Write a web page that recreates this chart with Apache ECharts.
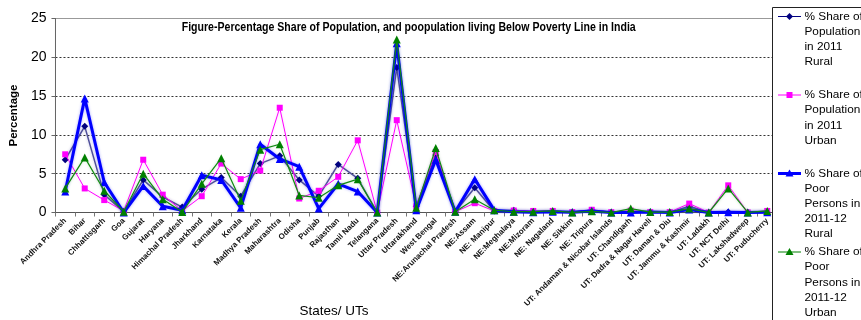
<!DOCTYPE html>
<html>
<head>
<meta charset="utf-8">
<script src="https://cdn.jsdelivr.net/npm/echarts@6/dist/echarts.min.js"></script>
<style>
  html, body { margin: 0; padding: 0; background: #ffffff; }
  #chart { width: 861px; height: 320px; }
</style>
</head>
<body>
<div id="chart"></div>
<script>
// States and Union Territories along the category axis
const states = [
  'Andhra Pradesh', 'Bihar', 'Chhattisgarh', 'Goa', 'Gujarat', 'Haryana',
  'Himachal Pradesh', 'Jharkhand', 'Karnataka', 'Kerala', 'Madhya Pradesh',
  'Maharashtra', 'Odisha', 'Punjab', 'Rajasthan', 'Tamil Nadu', 'Telangana',
  'Uttar Pradesh', 'Uttarakhand', 'West Bengal', 'NE:Arunachal Pradesh',
  'NE:Assam', 'NE: Manipur', 'NE:Meghalaya', 'NE:Mizoram', 'NE: Nagaland',
  'NE: Sikkim', 'NE: Tripura', 'UT: Andaman & Nicobar Islands', 'UT: Chandigarh',
  'UT: Dadra & Nagar Haveli', 'UT: Daman & Diu', 'UT: Jammu & Kashmir',
  'UT: Ladakh', 'UT: NCT Delhi', 'UT: Lakshadweep', 'UT: Puducherry'
];

// % share of population in 2011, rural
const ruralPop2011 = [
  6.8, 11.1, 2.3, 0.1, 4.2, 2.0, 0.7, 3.0, 4.5, 2.1, 6.3,
  7.3, 4.2, 2.1, 6.2, 4.4, 0.0, 18.7, 0.8, 7.4, 0.1,
  3.2, 0.2, 0.3, 0.06, 0.15, 0.05, 0.3, 0.03, 0.0,
  0.02, 0.01, 0.8, 0.0, 0.05, 0.0, 0.04
];

// % share of population in 2011, urban
const urbanPop2011 = [
  7.5, 3.1, 1.6, 0.2, 6.8, 2.3, 0.2, 2.1, 6.3, 4.3, 5.4,
  13.5, 1.8, 2.8, 4.6, 9.3, 0.0, 11.9, 0.8, 7.8, 0.1,
  1.2, 0.2, 0.25, 0.2, 0.2, 0.05, 0.35, 0.04, 0.25,
  0.05, 0.05, 1.15, 0.0, 3.5, 0.01, 0.2
];

// % share of poor persons in 2011-12, rural
const poorRural2011_12 = [
  2.7, 14.7, 3.9, 0.0, 3.4, 0.8, 0.3, 4.8, 4.2, 0.6, 8.8,
  6.9, 5.9, 0.5, 3.7, 2.7, 0.0, 21.8, 0.3, 6.8, 0.1,
  4.3, 0.3, 0.1, 0.02, 0.1, 0.02, 0.2, 0.0, 0.0,
  0.05, 0.0, 0.4, 0.0, 0.02, 0.0, 0.02
];

// % share of poor persons in 2011-12, urban
const poorUrban2011_12 = [
  3.1, 7.1, 2.8, 0.1, 5.0, 1.7, 0.05, 3.7, 7.0, 1.5, 8.1,
  8.8, 2.2, 1.9, 3.5, 4.3, 0.0, 22.3, 0.6, 8.3, 0.1,
  1.7, 0.3, 0.1, 0.1, 0.2, 0.01, 0.15, 0.0, 0.5,
  0.05, 0.05, 0.5, 0.0, 3.1, 0.01, 0.2
];

// Value axis ticks
const yTicks = [0, 5, 10, 15, 20, 25];

const seriesNames = [
  '% Share of\nPopulation\nin 2011\nRural',
  '% Share of\nPopulation\nin 2011\nUrban',
  '% Share of\nPoor\nPersons in\n2011-12\nRural',
  '% Share of\nPoor\nPersons in\n2011-12\nUrban'
];

const titleText = 'Figure-Percentage Share of Population, and poopulation living Below Poverty Line in India';
const FONT = '"Liberation Sans", Arial, sans-serif';

// series look: marker, colours, widths
const looks = [
  { symbol: 'diamond', size: 7, mark: '#000080', line: '#50509a', width: 1.5, legendLine: '#000080', legendWidth: 1, glow: 'rgba(0,0,128,0.25)' },
  { symbol: 'rect', size: 6, mark: '#ff00ff', line: '#ff00ff', width: 1, legendLine: '#ff00ff', legendWidth: 1, glow: 'rgba(255,0,255,0.2)' },
  { symbol: 'triangle', size: 8, mark: '#0000ff', line: '#0000ff', width: 3, legendLine: '#0000ff', legendWidth: 3, glow: 'rgba(0,0,255,0.35)' },
  { symbol: 'triangle', size: 8, mark: '#008000', line: '#108a10', width: 1.2, legendLine: '#008000', legendWidth: 1, glow: 'rgba(0,128,0,0.25)' }
];
const seriesData = [ruralPop2011, urbanPop2011, poorRural2011_12, poorUrban2011_12];

// squeeze the title to the width it occupies
const measureCtx = document.createElement('canvas').getContext('2d');
measureCtx.font = 'bold 12.5px ' + FONT;
const titleScale = 454 / measureCtx.measureText(titleText).width;

// legend panel drawn on the right
function legendGraphics() {
  const items = [{
    type: 'rect', z: 100,
    shape: { x: 772.5, y: 7.5, width: 120, height: 340 },
    style: { fill: '#ffffff', stroke: '#222222', lineWidth: 1 }
  }];
  const rowY = [16.5, 95, 173.5, 252];
  looks.forEach((lk, i) => {
    const cy = rowY[i], cx = 789.5;
    items.push({ type: 'line', z: 101, shape: { x1: 778, y1: cy, x2: 801, y2: cy },
      style: { stroke: lk.legendLine, lineWidth: lk.legendWidth } });
    let shape;
    if (lk.symbol === 'diamond') {
      shape = { type: 'polygon', shape: { points: [[cx, cy - 3.5], [cx + 3.5, cy], [cx, cy + 3.5], [cx - 3.5, cy]] } };
    } else if (lk.symbol === 'rect') {
      shape = { type: 'rect', shape: { x: cx - 3, y: cy - 3, width: 6, height: 6 } };
    } else {
      shape = { type: 'polygon', shape: { points: [[cx, cy - 4], [cx + 4, cy + 3], [cx - 4, cy + 3]] } };
    }
    shape.z = 102;
    shape.style = { fill: lk.mark };
    items.push(shape);
    items.push({ type: 'text', z: 102, x: 804.5, y: cy - 7.5,
      style: { text: seriesNames[i], font: '11.8px ' + FONT, fill: '#000', lineHeight: 15.1,
        textVerticalAlign: 'top', verticalAlign: 'top', align: 'left' } });
  });
  return items;
}

const chart = echarts.init(document.getElementById('chart'), null, { renderer: 'canvas' });

chart.setOption({
  animation: false,
  backgroundColor: '#ffffff',
  grid: {
    left: 45.5, right: 84, top: 18.5, bottom: 107.5,
    show: true, borderColor: '#9a9a9a', borderWidth: 1, backgroundColor: 'transparent'
  },
  xAxis: {
    type: 'category',
    data: states,
    boundaryGap: true,
    axisLine: { lineStyle: { color: '#555', width: 1 } },
    axisTick: { show: true, length: 4, lineStyle: { color: '#777' } },
    axisLabel: { interval: 0, rotate: 45, fontSize: 8, fontWeight: 'bold', color: '#111', margin: 7, fontFamily: FONT }
  },
  yAxis: {
    type: 'value',
    min: yTicks[0], max: yTicks[yTicks.length - 1], interval: yTicks[1] - yTicks[0],
    name: 'Percentage', nameLocation: 'middle', nameGap: 28,
    nameTextStyle: { fontSize: 11.5, fontWeight: 'bold', color: '#000', fontFamily: FONT },
    axisLine: { show: true, lineStyle: { color: '#666', width: 1 } },
    axisTick: { show: true, length: 4, lineStyle: { color: '#666' } },
    axisLabel: { fontSize: 14, color: '#000', margin: 9, fontFamily: FONT },
    splitLine: { show: true, lineStyle: { type: [2, 2], width: 1,
      color: ['#333', '#333', '#333', '#333', '#333', '#9a9a9a'] } }
  },
  series: seriesData.map((d, i) => ({
    name: seriesNames[i],
    type: 'line',
    data: d,
    symbol: looks[i].symbol,
    symbolSize: looks[i].size,
    showAllSymbol: true,
    itemStyle: { color: looks[i].mark },
    lineStyle: { color: looks[i].line, width: looks[i].width,
      shadowColor: looks[i].glow, shadowBlur: 3 },
    z: 2 + i
  })),
  graphic: [
    { type: 'text', x: 181.7, y: 27.3, scaleX: titleScale, z: 50,
      style: { text: titleText, font: 'bold 12.5px ' + FONT, fill: '#000',
        verticalAlign: 'middle', textVerticalAlign: 'middle', align: 'left' } },
    { type: 'text', x: 334, y: 311.5, z: 50,
      style: { text: 'States/ UTs', font: '13.5px ' + FONT, fill: '#000',
        align: 'center', textAlign: 'center', verticalAlign: 'middle', textVerticalAlign: 'middle' } }
  ].concat(legendGraphics())
});
</script>
</body>
</html>
